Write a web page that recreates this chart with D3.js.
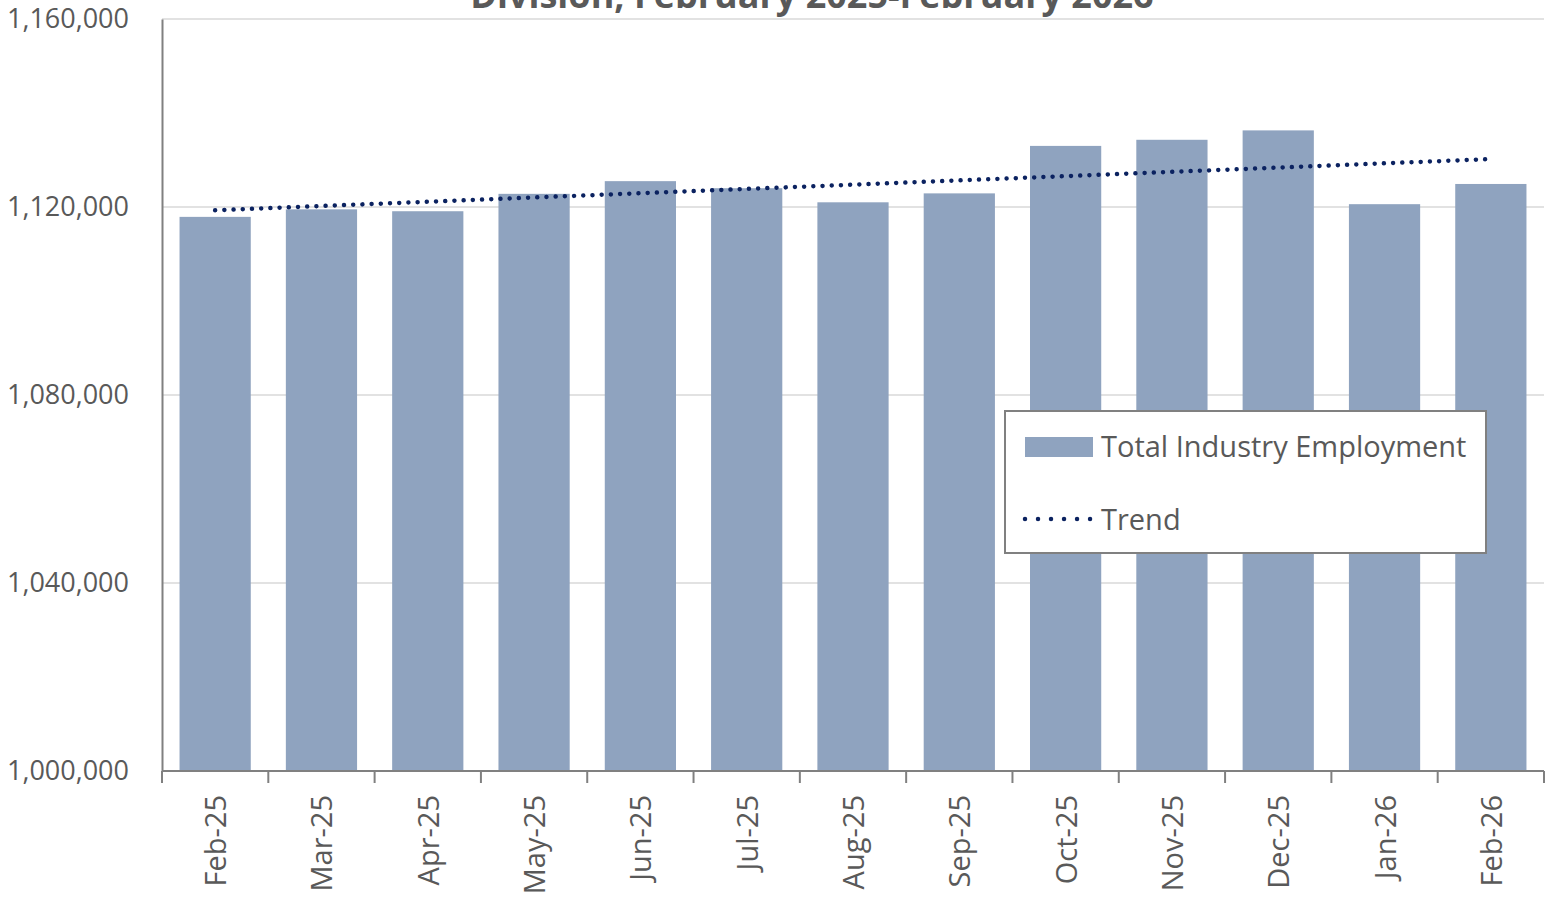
<!DOCTYPE html>
<html>
<head>
<meta charset="utf-8">
<script src="https://cdn.jsdelivr.net/npm/d3@7"></script>
<style>
  body { margin: 0; background: #fff; }
  svg { display: block; font-family: "Open Sans", "Noto Sans", sans-serif; }
</style>
</head>
<body>
<div id="chart"></div>
<script>
// months shown on the x axis
var months = ["Feb-25", "Mar-25", "Apr-25", "May-25", "Jun-25", "Jul-25", "Aug-25",
  "Sep-25", "Oct-25", "Nov-25", "Dec-25", "Jan-26", "Feb-26"];
// total industry employment
var employment = [1117900, 1119500, 1119100, 1122800, 1125500, 1124000, 1121000,
  1122900, 1133000, 1134300, 1136300, 1120600, 1124900];
// linear trend, first and last month
var trendMonths = ["Feb-25", "Feb-26"];
var trendValues = [1119300, 1130200];
var yTicks = [1000000, 1040000, 1080000, 1120000, 1160000];

var width = 1546, height = 899;
var margin = { left: 162, top: 19, right: 2, bottom: 128 };
var plotW = width - margin.left - margin.right;
var plotH = height - margin.top - margin.bottom;

var barColor = "#8fa3bf";
var trendColor = "#0b2260";
var textColor = "#595959";

var svg = d3.select("#chart").append("svg")
  .attr("width", width)
  .attr("height", height);

var x = d3.scaleBand().domain(months).range([0, plotW]).paddingInner(0.33).paddingOuter(0.165);
var xEdge = d3.scaleBand().domain(months).range([0, plotW]);
var y = d3.scaleLinear().domain([1000000, 1160000]).range([plotH, 0]);

var g = svg.append("g").attr("transform", "translate(" + margin.left + "," + margin.top + ")");

// gridlines
g.selectAll(".grid")
  .data(yTicks.slice(1))
  .enter().append("line")
  .attr("x1", 0).attr("x2", plotW)
  .attr("y1", d => y(d)).attr("y2", d => y(d))
  .attr("stroke", "#d9d9d9")
  .attr("stroke-width", 1.5);

// bars
g.selectAll(".bar")
  .data(employment)
  .enter().append("rect")
  .attr("x", (d, i) => x(months[i]))
  .attr("y", d => y(d))
  .attr("width", x.bandwidth())
  .attr("height", d => plotH - y(d))
  .attr("fill", barColor);

// trend line, dotted
var line = d3.line()
  .x((d, i) => xEdge(trendMonths[i]) + xEdge.bandwidth() / 2)
  .y(d => y(d));
g.append("path")
  .datum(trendValues)
  .attr("d", line)
  .attr("fill", "none")
  .attr("stroke", trendColor)
  .attr("stroke-width", 4.5)
  .attr("stroke-linecap", "round")
  .attr("stroke-dasharray", "0.01 9.2");

// y axis
var yAxis = g.append("g")
  .call(d3.axisLeft(y).tickValues(yTicks).tickFormat(d3.format(",")).tickSize(0).tickPadding(33));
yAxis.select(".domain").attr("stroke", "#808080").attr("stroke-width", 2);
yAxis.selectAll("text")
  .attr("fill", textColor)
  .attr("font-size", 27)
  .attr("font-family", "'Open Sans', sans-serif");

// x axis: ticks at category edges
var xAxisG = g.append("g").attr("transform", "translate(0," + plotH + ")");
xAxisG.append("line")
  .attr("x1", 0).attr("x2", plotW)
  .attr("stroke", "#808080").attr("stroke-width", 2);
var edges = months.map(m => xEdge(m)).concat([plotW]);
xAxisG.selectAll(".tick")
  .data(edges)
  .enter().append("line")
  .attr("x1", d => d).attr("x2", d => d)
  .attr("y1", 0).attr("y2", 12)
  .attr("stroke", "#808080").attr("stroke-width", 2);
xAxisG.selectAll(".label")
  .data(months)
  .enter().append("text")
  .attr("transform", d => "translate(" + (xEdge(d) + xEdge.bandwidth() / 2 + 11) + ",24) rotate(-90)")
  .attr("text-anchor", "end")
  .attr("fill", textColor)
  .attr("font-size", 29)
  .text(d => d);

// title (partly above the picture)
svg.append("text")
  .attr("x", 812)
  .attr("y", 8)
  .attr("text-anchor", "middle")
  .attr("font-size", 36)
  .attr("font-weight", "bold")
  .attr("fill", textColor)
  .text("Division, February 2025-February 2026");

// legend
var legend = svg.append("g").attr("transform", "translate(1005,411)");
legend.append("rect")
  .attr("width", 481).attr("height", 142)
  .attr("fill", "#fff")
  .attr("stroke", "#808080").attr("stroke-width", 2);
legend.append("rect")
  .attr("x", 20).attr("y", 26).attr("width", 68).attr("height", 20)
  .attr("fill", barColor);
legend.append("text")
  .attr("x", 96).attr("y", 46)
  .attr("font-size", 29).attr("fill", textColor)
  .text("Total Industry Employment");
legend.append("line")
  .attr("x1", 20).attr("x2", 87).attr("y1", 108).attr("y2", 108)
  .attr("stroke", trendColor).attr("stroke-width", 4.5)
  .attr("stroke-linecap", "round").attr("stroke-dasharray", "0.01 13");
legend.append("text")
  .attr("x", 96).attr("y", 119)
  .attr("font-size", 29).attr("fill", textColor)
  .text("Trend");
</script>
</body>
</html>
